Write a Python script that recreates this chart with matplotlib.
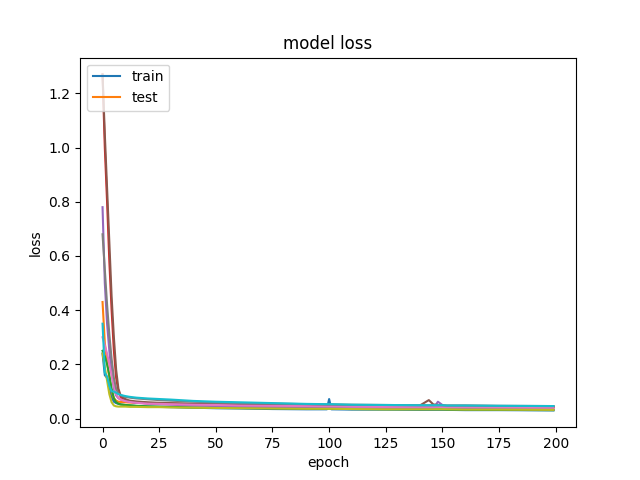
import matplotlib
matplotlib.use("Agg")
import matplotlib.pyplot as plt

EPOCHS = [0, 1, 2, 3, 4, 5, 6, 7, 8, 10, 12, 15, 20, 25, 30, 40, 50, 60, 75, 90,
          99, 100, 101, 110, 125, 140, 144, 146, 148, 150, 152, 160, 175, 199]

loss_blue = [0.24, 0.16, 0.15, 0.12, 0.08, 0.062, 0.057, 0.054, 0.052, 0.050, 0.048, 0.046,
             0.044, 0.043, 0.042, 0.040, 0.038, 0.037, 0.035, 0.034, 0.034, 0.072, 0.034,
             0.033, 0.033, 0.032, 0.032, 0.032, 0.032, 0.032, 0.032, 0.031, 0.031, 0.030]
loss_orange = [0.43, 0.28, 0.21, 0.15, 0.10, 0.075, 0.066, 0.062, 0.061, 0.060, 0.059, 0.058,
               0.057, 0.056, 0.055, 0.053, 0.052, 0.051, 0.050, 0.049, 0.048, 0.048, 0.048,
               0.047, 0.046, 0.045, 0.045, 0.045, 0.045, 0.045, 0.045, 0.044, 0.043, 0.042]
loss_green = [0.25, 0.23, 0.20, 0.16, 0.11, 0.075, 0.060, 0.055, 0.052, 0.050, 0.049, 0.047,
              0.045, 0.044, 0.043, 0.041, 0.040, 0.039, 0.038, 0.037, 0.036, 0.036, 0.036,
              0.035, 0.034, 0.034, 0.034, 0.034, 0.034, 0.034, 0.033, 0.033, 0.032, 0.031]
loss_red = [1.27, 1.00, 0.80, 0.58, 0.40, 0.25, 0.15, 0.10, 0.08, 0.066, 0.062, 0.059,
            0.056, 0.055, 0.054, 0.052, 0.050, 0.049, 0.048, 0.047, 0.046, 0.046, 0.046,
            0.045, 0.044, 0.044, 0.044, 0.044, 0.044, 0.043, 0.043, 0.043, 0.042, 0.041]
loss_purple = [0.78, 0.50, 0.35, 0.25, 0.17, 0.11, 0.085, 0.075, 0.070, 0.066, 0.062, 0.058,
               0.055, 0.053, 0.051, 0.048, 0.046, 0.044, 0.042, 0.040, 0.039, 0.039, 0.039,
               0.038, 0.037, 0.037, 0.037, 0.037, 0.062, 0.050, 0.036, 0.036, 0.035, 0.034]
loss_brown = [1.27, 1.05, 0.85, 0.65, 0.45, 0.30, 0.18, 0.11, 0.085, 0.072, 0.066, 0.063,
              0.060, 0.058, 0.057, 0.055, 0.054, 0.053, 0.052, 0.051, 0.050, 0.050, 0.050,
              0.049, 0.048, 0.048, 0.068, 0.052, 0.050, 0.048, 0.047, 0.047, 0.046, 0.045]
loss_pink = [0.30, 0.27, 0.24, 0.20, 0.16, 0.12, 0.090, 0.076, 0.070, 0.064, 0.061, 0.058,
             0.055, 0.054, 0.053, 0.051, 0.050, 0.048, 0.047, 0.046, 0.045, 0.045, 0.045,
             0.044, 0.043, 0.043, 0.043, 0.043, 0.043, 0.042, 0.042, 0.042, 0.041, 0.040]
loss_gray = [0.68, 0.55, 0.42, 0.31, 0.22, 0.15, 0.11, 0.092, 0.086, 0.080, 0.077, 0.074,
             0.071, 0.068, 0.066, 0.062, 0.059, 0.057, 0.055, 0.053, 0.052, 0.052, 0.052,
             0.051, 0.050, 0.049, 0.049, 0.049, 0.049, 0.049, 0.048, 0.048, 0.047, 0.046]
loss_olive = [0.24, 0.19, 0.14, 0.09, 0.06, 0.048, 0.045, 0.044, 0.044, 0.044, 0.043, 0.043,
              0.042, 0.042, 0.041, 0.040, 0.039, 0.038, 0.037, 0.036, 0.036, 0.036, 0.036,
              0.035, 0.034, 0.034, 0.034, 0.034, 0.034, 0.034, 0.034, 0.033, 0.033, 0.032]
loss_cyan = [0.35, 0.17, 0.155, 0.12, 0.10, 0.10, 0.095, 0.09, 0.087, 0.083, 0.080, 0.077,
             0.074, 0.072, 0.070, 0.065, 0.062, 0.060, 0.057, 0.054, 0.053, 0.053, 0.053,
             0.051, 0.050, 0.049, 0.049, 0.049, 0.049, 0.049, 0.048, 0.048, 0.047, 0.046]

histories = [loss_blue, loss_orange, loss_green, loss_red, loss_purple,
             loss_brown, loss_pink, loss_gray, loss_olive, loss_cyan]

fig = plt.figure(figsize=(6.4, 4.8), dpi=100)
for h in histories:
    plt.plot(EPOCHS, h)
plt.title("model loss")
plt.ylabel("loss")
plt.xlabel("epoch")
plt.legend(["train", "test"], loc="upper left")
fig.savefig("out.png")
